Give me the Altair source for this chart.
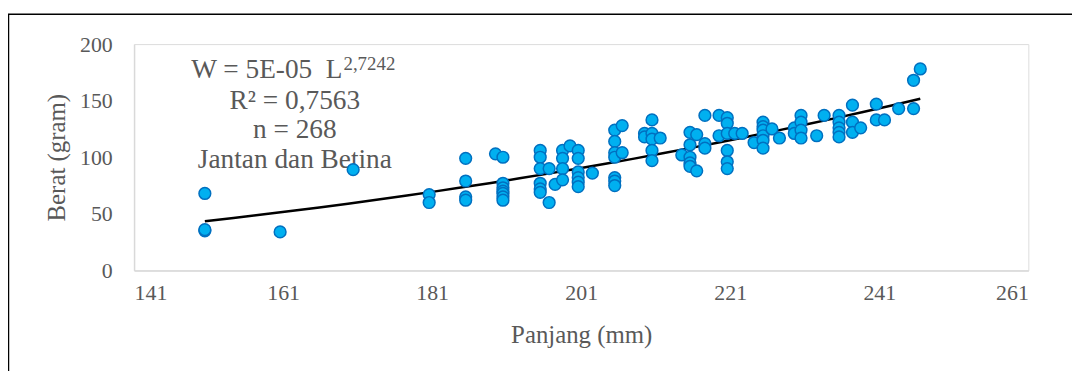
import altair as alt
import pandas as pd

# Data (Panjang in mm, Berat in gram)
panjang = [150.5, 150.5, 150.5,
           160.6,
           170.4,
           180.6, 180.6,
           185.5, 185.5, 185.5, 185.5,
           189.5,
           190.5, 190.5, 190.5, 190.5, 190.5, 190.5, 190.5,
           195.5, 195.5, 195.5, 195.5, 195.5, 195.5,
           196.7, 196.7,
           197.5,
           198.5, 198.5, 198.5, 198.5,
           199.5,
           200.6, 200.6, 200.6, 200.6, 200.6, 200.6,
           202.5,
           205.5, 205.5, 205.5, 205.5, 205.5, 205.5, 205.5,
           206.5, 206.5,
           209.5, 209.5,
           210.5, 210.5, 210.5, 210.5, 210.5,
           211.6,
           214.5,
           215.6, 215.6, 215.6, 215.6, 215.6,
           216.5, 216.5,
           217.6, 217.6, 217.6,
           219.5, 219.5,
           220.6, 220.6, 220.6, 220.6, 220.6, 220.6,
           221.6,
           222.6,
           224.2,
           225.4, 225.4, 225.4, 225.4, 225.4, 225.4,
           226.6,
           227.6,
           229.6, 229.6,
           230.5, 230.5, 230.5, 230.5,
           232.6,
           233.6,
           235.6, 235.6, 235.6, 235.6, 235.6,
           237.4, 237.4, 237.4,
           238.5,
           240.6, 240.6,
           241.7,
           243.6,
           245.6, 245.6,
           246.5]
berat = [68, 35, 36,
         34,
         89,
         67, 60,
         99, 79, 65, 62,
         103,
         100, 77, 73, 70, 68, 65, 62,
         106, 100, 90, 77, 72, 69,
         90, 60,
         76,
         106, 99, 90, 80,
         110,
         106, 99, 87, 82, 78, 74,
         86,
         124, 114, 104, 100, 82, 79, 75,
         128, 104,
         121, 118,
         133, 121, 116, 106, 97,
         117,
         102,
         122, 111, 100, 95, 92,
         120, 88,
         137, 112, 108,
         137, 119,
         135, 130, 121, 106, 96, 90,
         121,
         121,
         113,
         131, 127, 124, 119, 115, 108,
         125,
         117,
         126, 121,
         137, 131, 124, 117,
         119,
         137,
         137, 131, 126, 122, 118,
         146, 131, 122,
         126,
         147, 133,
         133,
         143,
         168, 143,
         178]

x_ticks = [141, 161, 181, 201, 221, 241, 261]
y_ticks = [0, 50, 100, 150, 200]

df = pd.DataFrame({"Panjang": panjang, "Berat": berat})

FONT = "Liberation Serif"
GRAY = "#595959"
AXIS_GRAY = "#D9D9D9"

x_enc = alt.X("Panjang:Q",
              scale=alt.Scale(domain=[141, 261], nice=False, zero=False),
              axis=alt.Axis(values=x_ticks, title="Panjang (mm)", grid=False, ticks=False,
                            domainColor=AXIS_GRAY, domainWidth=1.5,
                            labelFont=FONT, labelFontSize=22, labelColor=GRAY, labelPadding=12,
                            titleFont=FONT, titleFontSize=25, titleColor=GRAY,
                            titleFontWeight="normal", titlePadding=20))
y_enc = alt.Y("Berat:Q",
              scale=alt.Scale(domain=[0, 200], nice=False),
              axis=alt.Axis(values=y_ticks, title="Berat (gram)", grid=False, ticks=False,
                            domainColor=AXIS_GRAY, domainWidth=1.5,
                            labelFont=FONT, labelFontSize=22, labelColor=GRAY, labelPadding=22,
                            titleFont=FONT, titleFontSize=25, titleColor=GRAY,
                            titleFontWeight="normal", titlePadding=10))

base = alt.Chart(df)

points = base.mark_point(filled=True, shape="circle", size=140, fill="#00B0F0",
                         stroke="#0070C0", strokeWidth=1.5, opacity=1).encode(x=x_enc, y=y_enc)

trend = base.transform_regression("Panjang", "Berat", method="pow",
                                  extent=[150.5, 246.5]).mark_line(
    color="black", strokeWidth=2.5).encode(x="Panjang:Q", y="Berat:Q")

one = pd.DataFrame({"a": [0]})
border = alt.Chart(one).mark_rect(fill="transparent", stroke="black", strokeWidth=1.5,
                                  clip=False).encode(
    x=alt.value(-126.5), x2=alt.value(960), y=alt.value(-30), y2=alt.value(400))

def txt(s, x, y, size=27.5, align="center"):
    return alt.Chart(one).mark_text(text=s, font=FONT, fontSize=size, color=GRAY,
                                    align=align, baseline="middle").encode(
        x=alt.value(x), y=alt.value(y))

texts = [
    txt("W = 5E-05 \u00a0L", 210, 26, align="right"),
    txt("2,7242", 211, 20, size=19, align="left"),
    txt("R² = 0,7563", 162, 57),
    txt("n = 268", 162, 87),
    txt("Jantan dan Betina", 162, 117),
]

chart = alt.layer(border, *texts, trend, points).properties(
    width=901, height=228,
    padding={"left": 127, "top": 35, "right": 44, "bottom": 100},
    autosize=alt.AutoSizeParams(type="none"),
).configure_view(strokeWidth=0).configure(background="white")

chart.save("out.html", embed_options={"renderer": "svg", "actions": False})
